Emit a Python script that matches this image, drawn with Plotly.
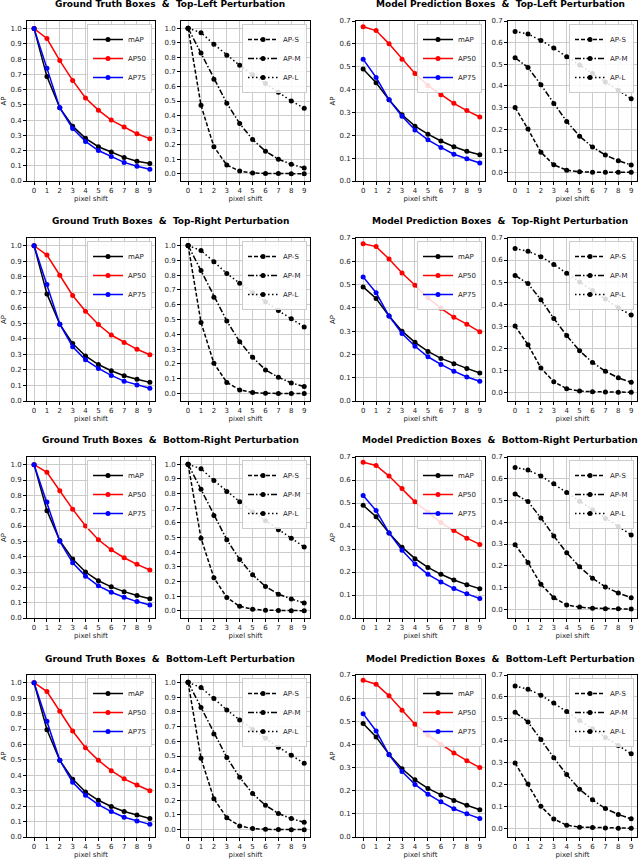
import plotly.graph_objects as go

# x values shared by every panel
pixel_shift = [0, 1, 2, 3, 4, 5, 6, 7, 8, 9]

perturbations = ['Top-Left', 'Top-Right', 'Bottom-Right', 'Bottom-Left']

# Ground truth boxes, top-left
gt_tl_map = [1.0, 0.685, 0.48, 0.36, 0.28, 0.225, 0.19, 0.155, 0.13, 0.115]
gt_tl_ap50 = [1.0, 0.935, 0.79, 0.66, 0.545, 0.465, 0.40, 0.355, 0.31, 0.278]
gt_tl_ap75 = [1.0, 0.74, 0.48, 0.345, 0.26, 0.20, 0.16, 0.122, 0.097, 0.077]
gt_tl_aps = [1.0, 0.47, 0.185, 0.06, 0.018, 0.005, 0.002, 0.001, 0.0, 0.0]
gt_tl_apm = [1.0, 0.83, 0.65, 0.485, 0.345, 0.235, 0.155, 0.10, 0.065, 0.04]
gt_tl_apl = [1.0, 0.97, 0.89, 0.815, 0.745, 0.68, 0.62, 0.56, 0.50, 0.45]
# Model prediction boxes, top-left
mp_tl_map = [0.49, 0.43, 0.355, 0.29, 0.24, 0.205, 0.175, 0.15, 0.13, 0.115]
mp_tl_ap50 = [0.675, 0.658, 0.60, 0.533, 0.47, 0.418, 0.377, 0.34, 0.308, 0.28]
mp_tl_ap75 = [0.533, 0.453, 0.355, 0.283, 0.223, 0.18, 0.147, 0.117, 0.097, 0.079]
mp_tl_aps = [0.30, 0.20, 0.093, 0.035, 0.01, 0.003, 0.001, 0.0, 0.0, 0.0]
mp_tl_apm = [0.53, 0.485, 0.405, 0.318, 0.235, 0.167, 0.117, 0.08, 0.054, 0.034]
mp_tl_apl = [0.652, 0.64, 0.61, 0.575, 0.535, 0.497, 0.457, 0.418, 0.38, 0.34]

# Ground truth boxes, top-right
gt_tr_map = [1.0, 0.69, 0.495, 0.37, 0.29, 0.235, 0.195, 0.163, 0.14, 0.12]
gt_tr_ap50 = [1.0, 0.94, 0.81, 0.68, 0.578, 0.493, 0.425, 0.377, 0.333, 0.298]
gt_tr_ap75 = [1.0, 0.75, 0.495, 0.35, 0.265, 0.21, 0.165, 0.128, 0.103, 0.082]
gt_tr_aps = [1.0, 0.48, 0.205, 0.075, 0.025, 0.007, 0.002, 0.001, 0.0, 0.0]
gt_tr_apm = [1.0, 0.83, 0.65, 0.49, 0.35, 0.245, 0.16, 0.11, 0.072, 0.048]
gt_tr_apl = [1.0, 0.965, 0.89, 0.81, 0.745, 0.68, 0.62, 0.56, 0.505, 0.45]
# Model prediction boxes, top-right
mp_tr_map = [0.49, 0.44, 0.365, 0.30, 0.252, 0.213, 0.183, 0.16, 0.14, 0.12]
mp_tr_ap50 = [0.675, 0.663, 0.61, 0.55, 0.497, 0.443, 0.398, 0.36, 0.33, 0.297]
mp_tr_ap75 = [0.533, 0.465, 0.365, 0.29, 0.235, 0.19, 0.157, 0.128, 0.103, 0.085]
mp_tr_aps = [0.30, 0.215, 0.11, 0.047, 0.016, 0.005, 0.002, 0.001, 0.0, 0.0]
mp_tr_apm = [0.53, 0.493, 0.42, 0.335, 0.257, 0.188, 0.135, 0.095, 0.065, 0.045]
mp_tr_apl = [0.652, 0.64, 0.615, 0.58, 0.54, 0.50, 0.462, 0.423, 0.383, 0.35]

# Ground truth boxes, bottom-right
gt_br_map = [1.0, 0.70, 0.505, 0.385, 0.30, 0.243, 0.203, 0.172, 0.147, 0.125]
gt_br_ap50 = [1.0, 0.95, 0.83, 0.71, 0.60, 0.51, 0.445, 0.393, 0.35, 0.313]
gt_br_ap75 = [1.0, 0.757, 0.50, 0.36, 0.273, 0.21, 0.168, 0.135, 0.107, 0.085]
gt_br_aps = [1.0, 0.495, 0.225, 0.09, 0.03, 0.01, 0.003, 0.001, 0.0, 0.0]
gt_br_apm = [1.0, 0.83, 0.65, 0.485, 0.35, 0.245, 0.165, 0.113, 0.08, 0.053]
gt_br_apl = [1.0, 0.97, 0.89, 0.815, 0.745, 0.675, 0.615, 0.553, 0.495, 0.435]
# Model prediction boxes, bottom-right
mp_br_map = [0.49, 0.44, 0.37, 0.308, 0.258, 0.22, 0.19, 0.165, 0.145, 0.127]
mp_br_ap50 = [0.677, 0.663, 0.617, 0.563, 0.505, 0.46, 0.415, 0.38, 0.347, 0.32]
mp_br_ap75 = [0.533, 0.467, 0.37, 0.295, 0.235, 0.19, 0.157, 0.128, 0.105, 0.085]
mp_br_aps = [0.297, 0.215, 0.115, 0.053, 0.02, 0.01, 0.005, 0.003, 0.002, 0.001]
mp_br_apm = [0.53, 0.495, 0.42, 0.337, 0.26, 0.195, 0.143, 0.103, 0.075, 0.053]
mp_br_apl = [0.652, 0.64, 0.613, 0.577, 0.537, 0.497, 0.458, 0.417, 0.38, 0.342]

# Ground truth boxes, bottom-left
gt_bl_map = [1.0, 0.695, 0.497, 0.375, 0.292, 0.238, 0.198, 0.165, 0.142, 0.12]
gt_bl_ap50 = [1.0, 0.943, 0.815, 0.687, 0.578, 0.497, 0.43, 0.377, 0.337, 0.30]
gt_bl_ap75 = [1.0, 0.75, 0.497, 0.355, 0.27, 0.21, 0.165, 0.128, 0.103, 0.082]
gt_bl_aps = [1.0, 0.485, 0.21, 0.08, 0.025, 0.007, 0.002, 0.001, 0.0, 0.0]
gt_bl_apm = [1.0, 0.83, 0.65, 0.49, 0.355, 0.245, 0.165, 0.11, 0.075, 0.05]
gt_bl_apl = [1.0, 0.965, 0.89, 0.813, 0.745, 0.68, 0.62, 0.56, 0.505, 0.45]
# Model prediction boxes, bottom-left
mp_bl_map = [0.49, 0.432, 0.357, 0.295, 0.247, 0.21, 0.182, 0.158, 0.137, 0.118]
mp_bl_ap50 = [0.677, 0.66, 0.61, 0.548, 0.487, 0.44, 0.40, 0.363, 0.33, 0.30]
mp_bl_ap75 = [0.533, 0.458, 0.355, 0.283, 0.227, 0.185, 0.152, 0.122, 0.10, 0.08]
mp_bl_aps = [0.298, 0.202, 0.10, 0.042, 0.014, 0.005, 0.003, 0.001, 0.0, 0.0]
mp_bl_apm = [0.53, 0.485, 0.405, 0.322, 0.245, 0.178, 0.13, 0.09, 0.063, 0.043]
mp_bl_apl = [0.65, 0.635, 0.608, 0.572, 0.533, 0.492, 0.455, 0.415, 0.378, 0.34]

rows = [
    (gt_tl_map, gt_tl_ap50, gt_tl_ap75, gt_tl_aps, gt_tl_apm, gt_tl_apl,
     mp_tl_map, mp_tl_ap50, mp_tl_ap75, mp_tl_aps, mp_tl_apm, mp_tl_apl),
    (gt_tr_map, gt_tr_ap50, gt_tr_ap75, gt_tr_aps, gt_tr_apm, gt_tr_apl,
     mp_tr_map, mp_tr_ap50, mp_tr_ap75, mp_tr_aps, mp_tr_apm, mp_tr_apl),
    (gt_br_map, gt_br_ap50, gt_br_ap75, gt_br_aps, gt_br_apm, gt_br_apl,
     mp_br_map, mp_br_ap50, mp_br_ap75, mp_br_aps, mp_br_apm, mp_br_apl),
    (gt_bl_map, gt_bl_ap50, gt_bl_ap75, gt_bl_aps, gt_bl_apm, gt_bl_apl,
     mp_bl_map, mp_bl_ap50, mp_bl_ap75, mp_bl_aps, mp_bl_apm, mp_bl_apl),
]

# Layout in pixels (figure is 640 x 859)
W, H = 640, 859
col_px = [(27, 155), (181, 310), (356, 485), (508, 637)]
row_px = [(21, 181), (238, 401), (457, 618), (675, 837)]
title_y = [4, 221, 440, 659]
FONT = 'DejaVu Sans'
TXT = '#222222'

fig = go.Figure()

left_style = [('mAP', 'black', 'solid'), ('AP50', 'red', 'solid'), ('AP75', 'blue', 'solid')]
right_style = [('AP-S', 'black', '4px,2px'), ('AP-M', 'black', '6px,2px,1.5px,2px'),
               ('AP-L', 'black', '1.5px,2.5px')]

n = 0
for r, series in enumerate(rows):
    panels = [
        (series[0:3], left_style, [0, 1.05], True),
        (series[3:6], right_style, [-0.05, 1.05], False),
        (series[6:9], left_style, [0, 0.7], True),
        (series[9:12], right_style, [-0.04, 0.7], False),
    ]
    for c, (vals, style, yr, is_left) in enumerate(panels):
        n += 1
        sfx = '' if n == 1 else str(n)
        leg = 'legend' + sfx
        for ys, (name, color, dash) in zip(vals, style):
            fig.add_trace(go.Scatter(
                x=pixel_shift, y=ys, name=name, mode='lines+markers',
                line=dict(color=color, width=1.5, dash=dash),
                marker=dict(color=color, size=5, symbol='circle'),
                xaxis='x' + sfx, yaxis='y' + sfx, legend=leg))
        x0, x1 = col_px[c]
        y0, y1 = row_px[r]
        fig.layout['xaxis' + sfx] = dict(
            domain=[x0 / W, x1 / W], anchor='y' + sfx, automargin=False,
            range=[-0.55, 9.4] if is_left else [-0.55, 9.45],
            tickmode='array', tickvals=pixel_shift,
            showgrid=True, gridcolor='#cccccc', gridwidth=1, zeroline=False,
            showline=True, linecolor='black', linewidth=1, mirror=True,
            ticks='outside', ticklen=3, tickcolor='black',
            tickfont=dict(size=7, color=TXT, family=FONT),
            title=dict(text='pixel shift', font=dict(size=7, color=TXT, family=FONT), standoff=0))
        fig.layout['yaxis' + sfx] = dict(
            domain=[1 - y1 / H, 1 - y0 / H], anchor='x' + sfx, automargin=False,
            range=yr, dtick=0.1, tick0=0, tickformat='.1f',
            showgrid=True, gridcolor='#cccccc', gridwidth=1, zeroline=False,
            showline=True, linecolor='black', linewidth=1, mirror=True,
            ticks='outside', ticklen=3, tickcolor='black',
            tickfont=dict(size=7, color=TXT, family=FONT),
            title=dict(text='AP' if c in (0, 2) else '',
                       font=dict(size=7, color=TXT, family=FONT), standoff=3))
        fig.layout[leg] = dict(
            x=(x1 - 3) / W, y=1 - (y0 + 3) / H, xanchor='right', yanchor='top',
            bgcolor='rgba(255,255,255,0.85)', bordercolor='#cccccc', borderwidth=1,
            font=dict(size=7, color=TXT, family=FONT),
            itemwidth=30, tracegroupgap=0)

    sp = '\u00a0\u00a0'
    for cx, label in [(170, 'Ground Truth Boxes'), (500, 'Model Prediction Boxes')]:
        fig.add_annotation(
            x=cx / W, y=1 - title_y[r] / H, xref='paper', yref='paper',
            xanchor='center', yanchor='middle', showarrow=False,
            text='<b>' + label + sp + '&' + sp + perturbations[r] + ' Perturbation</b>',
            font=dict(size=9, color='black', family=FONT))

fig.update_layout(
    template='none',
    width=W, height=H, autosize=False,
    margin=dict(l=0, r=0, t=0, b=0, pad=0),
    paper_bgcolor='white', plot_bgcolor='white',
    font=dict(family=FONT),
)

# drop the browser's default page margin so the figure sits at the window corner
fig.write_html('out.html', config={'displayModeBar': False},
               post_script="document.body.style.margin='0';document.body.style.overflow='hidden';")
